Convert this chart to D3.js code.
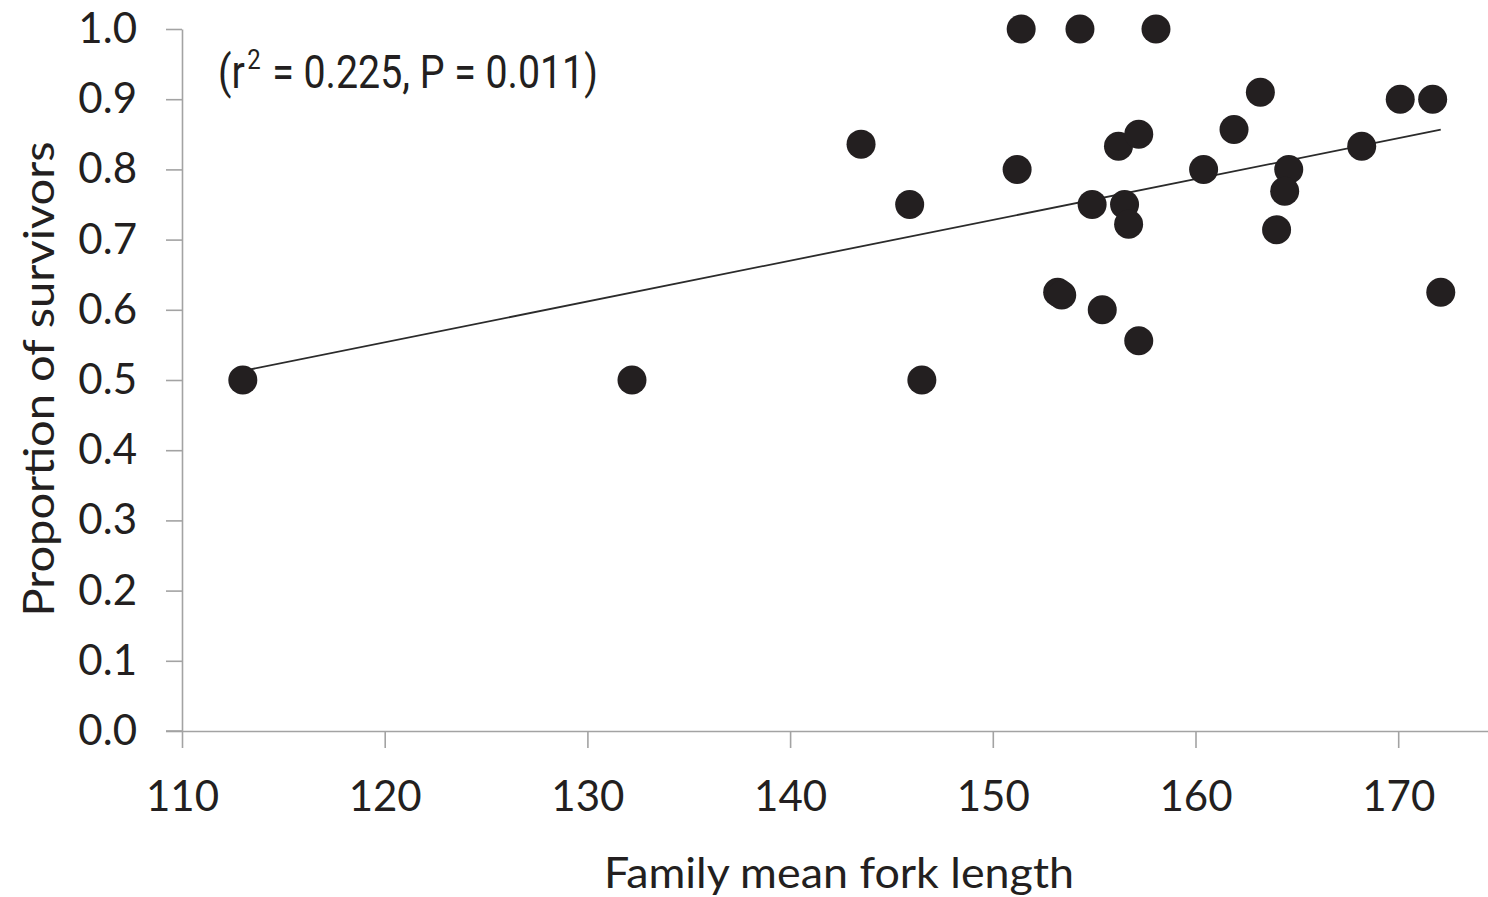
<!DOCTYPE html>
<html>
<head>
<meta charset="utf-8">
<script src="https://cdn.jsdelivr.net/npm/d3@7"></script>
<style>
  html, body { margin: 0; padding: 0; background: #fff; }
  svg { display: block; }
</style>
</head>
<body>
<svg id="chart" width="1488" height="897"></svg>
<script>
// Family mean fork length (x) vs proportion of survivors (y)
const forkLength = [113.0, 132.2, 146.5, 143.5, 145.9, 151.2, 151.4, 154.3, 158.05, 163.2,
                    170.1, 171.7, 156.2, 157.2, 161.9, 160.4, 164.6, 168.2, 154.9, 156.5,
                    156.7, 164.4, 164.0, 153.2, 153.4, 155.4, 157.2, 172.1];
const survivors  = [0.50, 0.50, 0.50, 0.836, 0.75, 0.80, 1.00, 1.00, 1.00, 0.91,
                    0.90, 0.90, 0.833, 0.85, 0.857, 0.80, 0.80, 0.833, 0.75, 0.75,
                    0.722, 0.769, 0.714, 0.625, 0.621, 0.60, 0.556, 0.625];
const xTicks = [110, 120, 130, 140, 150, 160, 170];
const yTicks = [0.0, 0.1, 0.2, 0.3, 0.4, 0.5, 0.6, 0.7, 0.8, 0.9, 1.0];
const xTitle = "Family mean fork length";
const yTitle = "Proportion of survivors";
const statsR2 = "0.225";
const statsP = "0.011";

const svg = d3.select("#chart");
const x = d3.scaleLinear().domain([110, 174.43]).range([182, 1488]);
const y = d3.scaleLinear().domain([0, 1]).range([731, 29]);

const axisColor = "#a3a3a3";
const inkColor = "#231f20";
const tickFont = "Lato, 'Open Sans', sans-serif";

// Y axis
const gy = svg.append("g").attr("transform", `translate(${x(110)},0)`)
  .call(d3.axisLeft(y).tickValues(yTicks).tickFormat(d3.format(".1f")).tickSize(16).tickSizeOuter(0).tickPadding(29));
// X axis
const gx = svg.append("g").attr("transform", `translate(0,${y(0)})`)
  .call(d3.axisBottom(x).tickValues(xTicks).tickFormat(d3.format("d")).tickSize(17).tickSizeOuter(0).tickPadding(33));

[gx, gy].forEach(g => {
  g.select(".domain").attr("stroke", axisColor).attr("stroke-width", 1.6);
  g.selectAll(".tick line").attr("stroke", axisColor).attr("stroke-width", 1.6);
  g.selectAll(".tick text").attr("fill", inkColor).style("font-family", tickFont).style("font-size", "42px");
});
// extend the x-axis baseline to meet the 0.0 tick on the left
svg.append("line").attr("x1", x(110) - 16).attr("x2", x(110)).attr("y1", y(0)).attr("y2", y(0))
  .attr("stroke", axisColor).attr("stroke-width", 1.6);

// Regression line (least squares from the data)
const n = forkLength.length;
const mx = d3.mean(forkLength), my = d3.mean(survivors);
let sxy = 0, sxx = 0;
for (let i = 0; i < n; i++) { sxy += (forkLength[i] - mx) * (survivors[i] - my); sxx += (forkLength[i] - mx) ** 2; }
const slope = sxy / sxx, intercept = my - slope * mx;
const [xmin, xmax] = d3.extent(forkLength);
svg.append("line")
  .attr("x1", x(xmin)).attr("y1", y(intercept + slope * xmin))
  .attr("x2", x(xmax)).attr("y2", y(intercept + slope * xmax))
  .attr("stroke", "#2b2b2b").attr("stroke-width", 1.8);

// Points
svg.append("g").selectAll("circle")
  .data(d3.range(n))
  .join("circle")
  .attr("cx", i => x(forkLength[i]))
  .attr("cy", i => y(survivors[i]))
  .attr("r", 14.5)
  .attr("fill", inkColor);

// Axis titles
svg.append("text")
  .attr("x", 839).attr("y", 888)
  .attr("text-anchor", "middle")
  .attr("fill", inkColor)
  .attr("textLength", 470).attr("lengthAdjust", "spacingAndGlyphs")
  .style("font-family", tickFont).style("font-size", "43px")
  .text(xTitle);
svg.append("text")
  .attr("transform", "translate(54,379) rotate(-90)")
  .attr("text-anchor", "middle")
  .attr("fill", inkColor)
  .attr("textLength", 475).attr("lengthAdjust", "spacingAndGlyphs")
  .style("font-family", tickFont).style("font-size", "43px")
  .text(yTitle);

// Stats annotation
const ann = svg.append("text")
  .attr("x", 218).attr("y", 88)
  .attr("fill", inkColor)
  .style("font-family", "'Liberation Sans Narrow', Roboto, sans-serif").style("font-size", "46px");
ann.append("tspan").text("(r");
ann.append("tspan").attr("dx", 3).attr("dy", -19).style("font-size", "28px").text("2");
ann.append("tspan").attr("dx", 2).attr("dy", 19).text(` = ${statsR2}, P = ${statsP})`);
// fit the annotation to its width in the reference
const bb = ann.node().getBBox();
ann.attr("transform", `translate(218,0) scale(${380 / bb.width},1) translate(-218,0)`);
</script>
</body>
</html>
